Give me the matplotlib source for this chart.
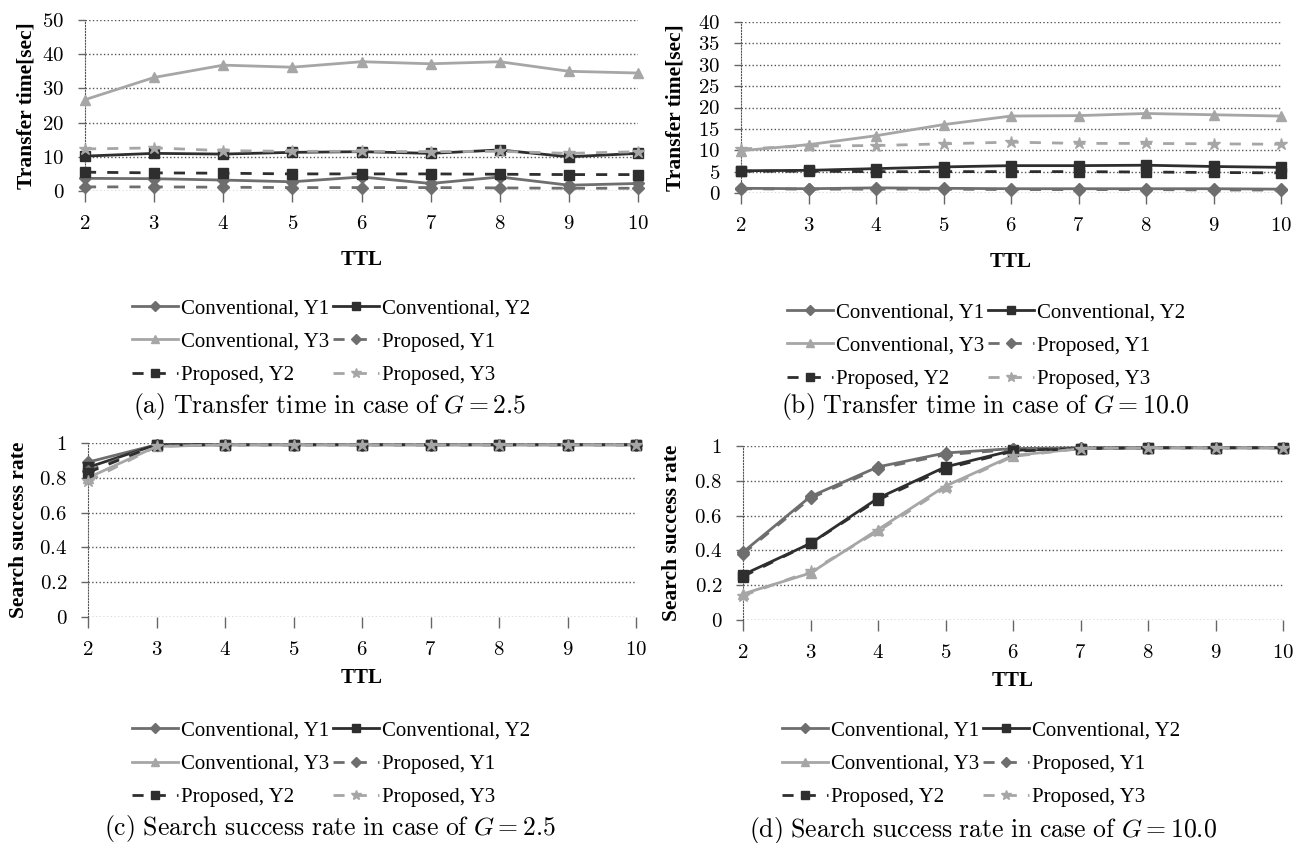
import matplotlib
matplotlib.use("Agg")
import matplotlib.pyplot as plt

plt.rcParams['font.family'] = ['Liberation Serif', 'DejaVu Serif']
plt.rcParams['mathtext.fontset'] = 'cm'

ttl = [2, 3, 4, 5, 6, 7, 8, 9, 10]
ttl_labels = ["2", "3", "4", "5", "6", "7", "8", "9", "10"]

# (a) transfer time, G = 2.5
a_conv_y1 = [3.7, 3.6, 3.2, 2.7, 4.1, 2.2, 4.1, 1.7, 2.2]
a_conv_y2 = [10.2, 11.0, 10.8, 11.3, 11.5, 11.0, 12.0, 10.0, 11.0]
a_conv_y3 = [26.7, 33.2, 36.8, 36.2, 37.8, 37.2, 37.8, 35.0, 34.5]
a_prop_y1 = [1.2, 1.2, 1.1, 1.0, 1.0, 1.0, 0.9, 0.8, 0.8]
a_prop_y2 = [5.5, 5.3, 5.2, 5.0, 5.0, 5.0, 4.9, 4.8, 4.8]
a_prop_y3 = [12.3, 12.6, 11.8, 11.6, 11.6, 11.5, 11.6, 11.0, 11.5]

# (b) transfer time, G = 10.0
b_conv_y1 = [1.1, 1.0, 1.2, 1.1, 1.0, 1.0, 1.0, 1.0, 0.9]
b_conv_y2 = [5.2, 5.3, 5.7, 6.1, 6.4, 6.4, 6.5, 6.2, 6.0]
b_conv_y3 = [9.9, 11.3, 13.4, 16.0, 18.0, 18.1, 18.6, 18.3, 18.0]
b_prop_y1 = [1.0, 0.9, 0.9, 0.9, 0.8, 0.8, 0.8, 0.7, 0.7]
b_prop_y2 = [5.1, 5.1, 5.0, 5.0, 5.0, 5.0, 4.9, 4.8, 4.7]
b_prop_y3 = [10.3, 11.0, 11.1, 11.5, 11.9, 11.6, 11.6, 11.5, 11.4]

# (c) search success rate, G = 2.5
c_conv_y1 = [0.89, 0.99, 0.99, 0.99, 0.99, 0.99, 0.99, 0.99, 0.99]
c_conv_y2 = [0.86, 0.99, 0.99, 0.99, 0.99, 0.99, 0.99, 0.99, 0.99]
c_conv_y3 = [0.80, 0.98, 0.99, 0.99, 0.99, 0.99, 0.99, 0.99, 0.99]
c_prop_y1 = [0.84, 0.99, 0.99, 0.99, 0.99, 0.99, 0.99, 0.99, 0.99]
c_prop_y2 = [0.83, 0.99, 0.99, 0.99, 0.99, 0.99, 0.99, 0.99, 0.99]
c_prop_y3 = [0.78, 0.98, 0.99, 0.99, 0.99, 0.99, 0.99, 0.99, 0.99]

# (d) search success rate, G = 10.0
d_conv_y1 = [0.39, 0.71, 0.88, 0.96, 0.985, 0.99, 0.99, 0.99, 0.99]
d_conv_y2 = [0.26, 0.44, 0.70, 0.88, 0.975, 0.985, 0.99, 0.99, 0.99]
d_conv_y3 = [0.15, 0.27, 0.52, 0.77, 0.945, 0.985, 0.99, 0.99, 0.99]
d_prop_y1 = [0.38, 0.70, 0.87, 0.95, 0.98, 0.99, 0.99, 0.99, 0.99]
d_prop_y2 = [0.25, 0.44, 0.69, 0.87, 0.97, 0.985, 0.99, 0.99, 0.99]
d_prop_y3 = [0.14, 0.28, 0.51, 0.76, 0.94, 0.985, 0.99, 0.99, 0.99]

series_names = ["Conventional, Y1", "Conventional, Y2", "Conventional, Y3",
                "Proposed, Y1", "Proposed, Y2", "Proposed, Y3"]

a_yticks = [0, 10, 20, 30, 40, 50]
b_yticks = [0, 5, 10, 15, 20, 25, 30, 35, 40]
rate_yticks = [0, 0.2, 0.4, 0.6, 0.8, 1]

captions = [r"$\mathrm{(a)\ Transfer\ time\ in\ case\ of\ }G=2.5$",
            r"$\mathrm{(b)\ Transfer\ time\ in\ case\ of\ }G=10.0$",
            r"$\mathrm{(c)\ Search\ success\ rate\ in\ case\ of\ }G=2.5$",
            r"$\mathrm{(d)\ Search\ success\ rate\ in\ case\ of\ }G=10.0$"]

styles = [
    dict(color="#6e6e6e", ls="-", marker="D", ms=6),
    dict(color="#2e2e2e", ls="-", marker="s", ms=7),
    dict(color="#a6a6a6", ls="-", marker="^", ms=7),
    dict(color="#6e6e6e", ls=(0, (4, 4)), marker="D", ms=6),
    dict(color="#2e2e2e", ls=(0, (4, 4)), marker="s", ms=7),
    dict(color="#a6a6a6", ls=(0, (4, 4)), marker="*", ms=9),
]

W, H = 1297, 843
fig = plt.figure(figsize=(W / 100, H / 100), dpi=100)


def px_axes(x0, x1, ytop, ybot):
    return fig.add_axes([x0 / W, 1 - ybot / H, (x1 - x0) / W, (ybot - ytop) / H])


panels = [
    dict(ax=px_axes(85, 638, 20, 191),
         data=[a_conv_y1, a_conv_y2, a_conv_y3, a_prop_y1, a_prop_y2, a_prop_y3],
         yticks=a_yticks, ylabel="Transfer time[sec]", ylx=-0.087, xlp=12,
         leg=(331, 342), cap=(330, 407)),
    dict(ax=px_axes(741, 1281, 22, 193),
         data=[b_conv_y1, b_conv_y2, b_conv_y3, b_prop_y1, b_prop_y2, b_prop_y3],
         yticks=b_yticks, ylabel="Transfer time[sec]", ylx=-0.103, xlp=12,
         leg=(986, 346), cap=(985, 407)),
    dict(ax=px_axes(88, 636, 443, 617),
         data=[c_conv_y1, c_conv_y2, c_conv_y3, c_prop_y1, c_prop_y2, c_prop_y3],
         yticks=rate_yticks, ylabel="Search success rate", ylx=-0.107, xlp=6,
         leg=(331, 764), cap=(330, 828)),
    dict(ax=px_axes(743, 1283, 446, 620),
         data=[d_conv_y1, d_conv_y2, d_conv_y3, d_prop_y1, d_prop_y2, d_prop_y3],
         yticks=rate_yticks, ylabel="Search success rate", ylx=-0.113, xlp=6,
         leg=(981, 764), cap=(983, 830)),
]

for i, p in enumerate(panels):
    ax = p["ax"]
    handles = []
    for vals, name, st in zip(p["data"], series_names, styles):
        h, = ax.plot(ttl, vals, color=st["color"], linestyle=st["ls"], lw=2,
                     marker=st["marker"], markersize=st["ms"],
                     markerfacecolor=st["color"], markeredgecolor=st["color"],
                     label=name, clip_on=False, zorder=3)
        handles.append(h)
    ax.set_xlim(2, 10)
    ax.set_ylim(p["yticks"][0], p["yticks"][-1])
    ax.set_xticks(ttl, labels=[f"${t}$" for t in ttl_labels])
    ax.set_yticks(p["yticks"], labels=[f"${t:g}$" for t in p["yticks"]])
    ax.tick_params(axis="both", labelsize=15, color="#666666")
    ax.tick_params(axis="x", length=8, width=1, pad=9, direction="out")
    ax.tick_params(axis="y", length=5, width=1, pad=10)
    ax.grid(axis="y", linestyle=":", color="#555555", lw=1)
    for s in ["top", "right", "bottom"]:
        ax.spines[s].set_visible(False)
    ax.spines["left"].set_linestyle(":")
    ax.spines["left"].set_color("#555555")
    ax.set_ylabel(p["ylabel"], fontsize=15.5, fontweight="bold")
    ax.yaxis.set_label_coords(p["ylx"], 0.5)
    ax.set_xlabel("TTL", fontsize=15, fontweight="bold", labelpad=p["xlp"])

    # legend filled row by row like the original (3 rows x 2 columns)
    order = [0, 2, 4, 1, 3, 5]
    lx, ly = p["leg"]
    fig.legend([handles[k] for k in order], [series_names[k] for k in order],
               ncol=2, loc="center", bbox_to_anchor=(lx / W, 1 - ly / H),
               frameon=False, fontsize=15, handlelength=2.2,
               handletextpad=0.15, columnspacing=0.2, labelspacing=0.65,
               numpoints=1, markerscale=0.8)
    cx, cy = p["cap"]
    fig.text(cx / W, 1 - cy / H, captions[i], ha="center", va="center",
             fontsize=18.5)

fig.savefig("out.png", dpi=100)
plt.close(fig)
